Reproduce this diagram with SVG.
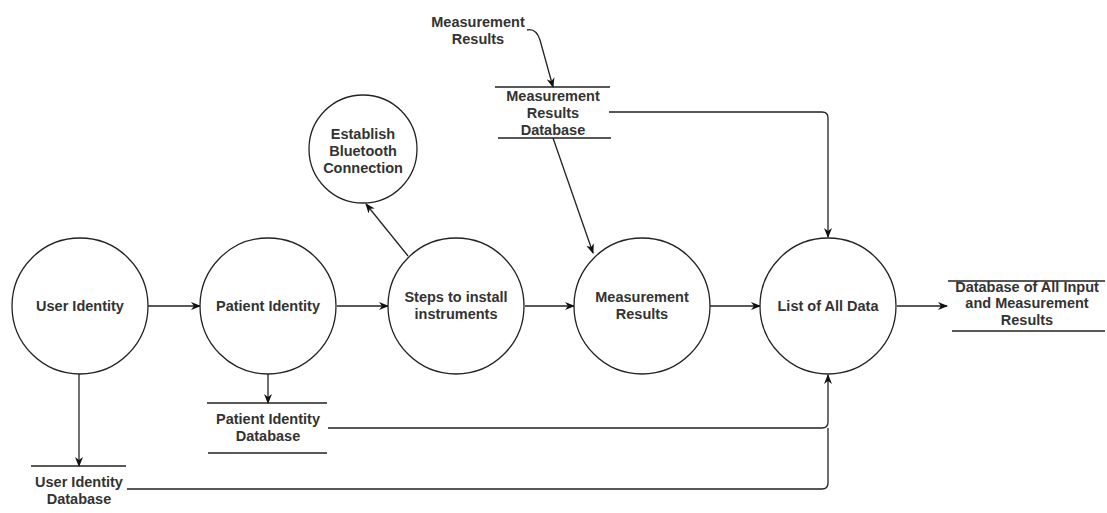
<svg xmlns="http://www.w3.org/2000/svg" width="1107" height="513" viewBox="0 0 1107 513">
<style>
.n{fill:#fff;stroke:#222;stroke-width:1.3}
.t{font-family:"Liberation Sans",Arial,sans-serif;font-size:14.5px;font-weight:bold;fill:#333;text-anchor:middle}
.s{stroke:#222;stroke-width:1.3;fill:none}
.c{stroke:#222;stroke-width:1.3;fill:none;marker-end:url(#a)}
</style>
<defs>
<marker id="a" viewBox="0 0 10 8" refX="9" refY="4" markerWidth="10" markerHeight="8" markerUnits="userSpaceOnUse" orient="auto">
<path d="M0,0 L10,4 L0,8 L3,4 z" fill="#111"/>
</marker>
</defs>
<rect width="1107" height="513" fill="#fff"/>
<g id="connectors">
<path class="c" d="M148,306 L200,306"/>
<path class="c" d="M337,306 L388,306"/>
<path class="c" d="M525,306 L574,306"/>
<path class="c" d="M710,306 L760,306"/>
<path class="c" d="M897,306 L947,306"/>
<path class="c" d="M408,256 L366,204"/>
<path class="c" d="M527,30 Q536,28 540,40 L553,87"/>
<path class="c" d="M553,138 L593,253"/>
<path class="c" d="M609,112 L822,112 Q828,112 828,118 L828,237"/>
<path class="c" d="M268,374 L268,403"/>
<path class="c" d="M79,374 L79,466"/>
<path class="c" d="M328,428 L822,428 Q828,428 828,422 L828,375"/>
<path class="s" d="M127,489 L822,489 Q828,489 828,483 L828,428"/>
</g>
<g id="user-identity"><circle class="n" cx="80" cy="306" r="68"/><text class="t" x="80" y="311">User Identity</text></g>
<g id="patient-identity"><circle class="n" cx="268" cy="306" r="68"/><text class="t" x="268" y="311">Patient Identity</text></g>
<g id="steps"><circle class="n" cx="456" cy="306" r="68"/><text class="t" x="456" y="302">Steps to install</text><text class="t" x="456" y="319">instruments</text></g>
<g id="measurement-results"><circle class="n" cx="642" cy="306" r="68"/><text class="t" x="642" y="302">Measurement</text><text class="t" x="642" y="319">Results</text></g>
<g id="list-all-data"><circle class="n" cx="828" cy="306" r="68"/><text class="t" x="828" y="311">List of All Data</text></g>
<g id="bluetooth"><circle class="n" cx="363" cy="149" r="54"/><text class="t" x="363" y="139">Establish</text><text class="t" x="363" y="156">Bluetooth</text><text class="t" x="363" y="173">Connection</text></g>
<g id="measurement-input"><text class="t" x="478" y="27">Measurement</text><text class="t" x="478" y="44">Results</text></g>
<g id="measurement-db"><path class="s" d="M495,87 L610,87 M498,138 L611,138"/><text class="t" x="553" y="101">Measurement</text><text class="t" x="553" y="118">Results</text><text class="t" x="553" y="135">Database</text></g>
<g id="all-db"><path class="s" d="M948,281 L1105,281 M952,331 L1105,331"/><text class="t" x="1027" y="292">Database of All Input</text><text class="t" x="1027" y="308">and Measurement</text><text class="t" x="1027" y="325">Results</text></g>
<g id="patient-db"><path class="s" d="M207,403 L327,403 M208,453 L327,453"/><text class="t" x="268" y="424">Patient Identity</text><text class="t" x="268" y="441">Database</text></g>
<g id="user-db"><path class="s" d="M31,466 L126,466"/><text class="t" x="79" y="487">User Identity</text><text class="t" x="79" y="504">Database</text></g>
</svg>
